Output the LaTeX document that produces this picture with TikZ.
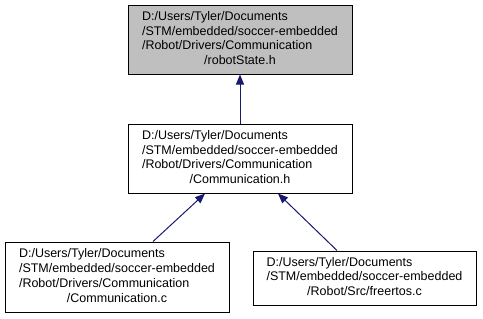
\documentclass[tikz,border=0pt]{standalone}
\usepackage{fontspec}
\setmainfont{Liberation Sans}
\usetikzlibrary{arrows.meta}
\definecolor{edgeblue}{HTML}{191970}
\definecolor{focusgrey}{HTML}{BFBFBF}
% four-line file path: three left-aligned lines and a centred file name
\newcommand{\pathlabel}[4]{%
  \begin{tabular}{@{}l@{}}#1\\#2\\#3\\\multicolumn{1}{@{}c@{}}{#4}\end{tabular}}
\newcommand{\pathlabelthree}[3]{%
  \begin{tabular}{@{}l@{}}#1\\#2\\\multicolumn{1}{@{}c@{}}{#3}\end{tabular}}
\tikzset{
  filebox/.style={draw=black, line width=1pt, fill=white, inner sep=0pt,
    font=\fontsize{12.5}{15}\selectfont, text=black,
    execute at begin node={\renewcommand{\arraystretch}{0.99}}},
  depedge/.style={draw=edgeblue, line width=1pt,
    -{Triangle[length=10pt,width=8pt,fill=edgeblue]}},
}
\begin{document}
\begin{tikzpicture}[x=1pt,y=-1pt]
\useasboundingbox (0,0) rectangle (483,319);
\fill[white] (0,0) rectangle (483,319);

\node[filebox, fill=focusgrey, minimum width=224pt, minimum height=69pt] (state) at (240,39.5)
  {\pathlabel{D:/Users/Tyler/Documents}{/STM/embedded/soccer-embedded}{/Robot/Drivers/Communication}{/robotState.h}};

\node[filebox, minimum width=224pt, minimum height=69pt] (commh) at (240,158.5)
  {\pathlabel{D:/Users/Tyler/Documents}{/STM/embedded/soccer-embedded}{/Robot/Drivers/Communication}{/Communication.h}};

\node[filebox, minimum width=224pt, minimum height=70pt] (commc) at (117,277)
  {\pathlabel{D:/Users/Tyler/Documents}{/STM/embedded/soccer-embedded}{/Robot/Drivers/Communication}{/Communication.c}};

\node[filebox, minimum width=223pt, minimum height=54pt] (rtos) at (364.5,278)
  {\pathlabelthree{D:/Users/Tyler/Documents}{/STM/embedded/soccer-embedded}{/Robot/Src/freertos.c}};

\draw[depedge] (commh.north) -- (state.south);
\draw[depedge] ([xshift=36pt]commc.north) -- ([xshift=-35pt]commh.south);
\draw[depedge] ([xshift=-27.5pt]rtos.north) -- ([xshift=38pt]commh.south);
\end{tikzpicture}
\end{document}
